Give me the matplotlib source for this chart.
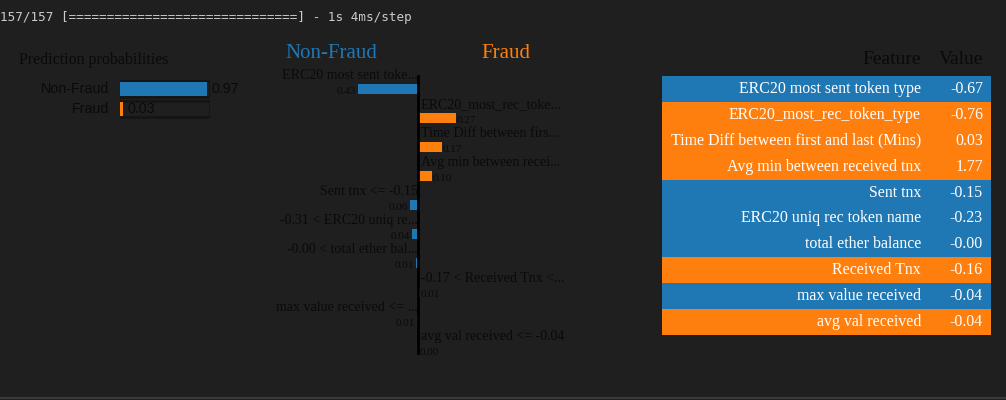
import matplotlib
matplotlib.use("Agg")
import matplotlib.pyplot as plt
from matplotlib.lines import Line2D

class_names = ["Non-Fraud", "Fraud"]
class_probs = [0.97, 0.03]

exp_labels = [
    "ERC20 most sent toke...",
    "ERC20_most_rec_toke...",
    "Time Diff between firs...",
    "Avg min between recei...",
    "Sent tnx <= -0.15",
    "-0.31 < ERC20 uniq re...",
    "-0.00 < total ether bal...",
    "-0.17 < Received Tnx <...",
    "max value received <= ...",
    "avg val received <= -0.04",
]
# negative -> pushes towards Non-Fraud, positive -> Fraud
exp_weights = [-0.43, 0.27, 0.17, 0.10, -0.06, -0.04, -0.011, 0.011, -0.006, 0.003]

table_features = [
    "ERC20 most sent token type",
    "ERC20_most_rec_token_type",
    "Time Diff between first and last (Mins)",
    "Avg min between received tnx",
    "Sent tnx",
    "ERC20 uniq rec token name",
    "total ether balance",
    "Received Tnx",
    "max value received",
    "avg val received",
]
table_values = [-0.67, -0.76, 0.03, 1.77, -0.15, -0.23, -0.00, -0.16, -0.04, -0.04]

progress_line = "157/157 [" + "=" * 30 + "] - 1s 4ms/step"

BG = "#1f1f1f"
INK = "#0a0a0a"
BLUE = "#1f77b4"
ORANGE = "#ff7f0e"
SERIF = ["Liberation Serif", "DejaVu Serif"]
SANS = ["Liberation Sans", "DejaVu Sans"]

W, H = 1006, 400
fig = plt.figure(figsize=(W / 100, H / 100), dpi=100, facecolor=BG)


def px_axes(x0, y0, x1, y1):
    ax = fig.add_axes([x0 / W, 1 - y1 / H, (x1 - x0) / W, (y1 - y0) / H])
    ax.set_facecolor("none")
    ax.axis("off")
    return ax


def px_text(x, y, s, **kw):
    fig.text(x / W, 1 - y / H, s, va="center", **kw)


# notebook progress bar line + cell border
px_text(0, 17, progress_line, family="DejaVu Sans Mono", fontsize=9.1, color="#cccccc")
fig.add_artist(Line2D([0, 1], [1 - 397.5 / H] * 2, color="#3a3a3a", lw=1.5))

# --- prediction probabilities ---
px_text(19, 60, "Prediction probabilities", family=SERIF, fontsize=11.5, color=INK)
ax_p = px_axes(120, 79, 210, 119)
ys = list(range(len(class_probs)))
ax_p.barh(ys, [1.0] * len(ys), height=0.8, facecolor="none", edgecolor="#141414", lw=1.8)
ax_p.barh(ys, class_probs, height=0.68, color=[BLUE, ORANGE])
for y, name, p in zip(ys, class_names, class_probs):
    ax_p.text(-0.12, y, name, ha="right", va="center", family=SANS, fontsize=10.3, color=INK)
    ax_p.text(p + 0.05, y, f"{p:.2f}", ha="left", va="center", family=SANS, fontsize=10.3, color=INK)
ax_p.set_xlim(0, 1)
ax_p.set_ylim(len(ys) - 0.5, -0.5)

# --- explanation bars ---
px_text(331, 53, class_names[0], family=SERIF, fontsize=15, color=BLUE, ha="center")
px_text(506, 53, class_names[1], family=SERIF, fontsize=15, color=ORANGE, ha="center")

scale = 140.0  # pixels per weight unit
ax_e = px_axes(270, 75, 600, 355)
ax_e.set_xlim(-(418 - 270) / scale, (600 - 418) / scale)
ax_e.set_ylim(9 + 5 / 29, -14 / 29)
rows = list(range(len(exp_weights)))
ax_e.barh(rows, exp_weights, height=10 / 29,
          color=[ORANGE if w > 0 else BLUE for w in exp_weights])
ax_e.axvline(0, color="black", lw=2)
for r, lab, w in zip(rows, exp_labels, exp_weights):
    if w > 0:
        ax_e.text(3 / scale, r - 0.45, lab, ha="left", va="center",
                  family=SERIF, fontsize=10.1, color=INK)
        ax_e.text(w + 1 / scale, r + 0.1, f"{abs(w):.2f}", ha="left", va="center",
                  family=SERIF, fontsize=8, color=INK)
    else:
        ax_e.text(0, r - 0.45, lab, ha="right", va="center",
                  family=SERIF, fontsize=10.1, color=INK)
        ax_e.text(w - 2 / scale, r + 0.1, f"{abs(w):.2f}", ha="right", va="center",
                  family=SERIF, fontsize=8, color=INK)

# --- feature / value table ---
px_text(921, 60, "Feature", family=SERIF, fontsize=14, color=INK, ha="right")
px_text(983, 60, "Value", family=SERIF, fontsize=14, color=INK, ha="right")
ax_t = px_axes(662, 76, 991, 335)
trows = list(range(len(table_features)))
ax_t.barh(trows, [1.0] * len(trows), height=1.0,
          color=[ORANGE if w > 0 else BLUE for w in exp_weights])
for r, feat, val in zip(trows, table_features, table_values):
    ax_t.text((921 - 662) / 329, r, feat, ha="right", va="center",
              family=SERIF, fontsize=11.4, color="white")
    ax_t.text((983 - 662) / 329, r, f"{val:.2f}", ha="right", va="center",
              family=SERIF, fontsize=11.4, color="white")
ax_t.set_xlim(0, 1)
ax_t.set_ylim(len(trows) - 0.5, -0.5)

fig.savefig("out.png", dpi=100, facecolor=BG)
